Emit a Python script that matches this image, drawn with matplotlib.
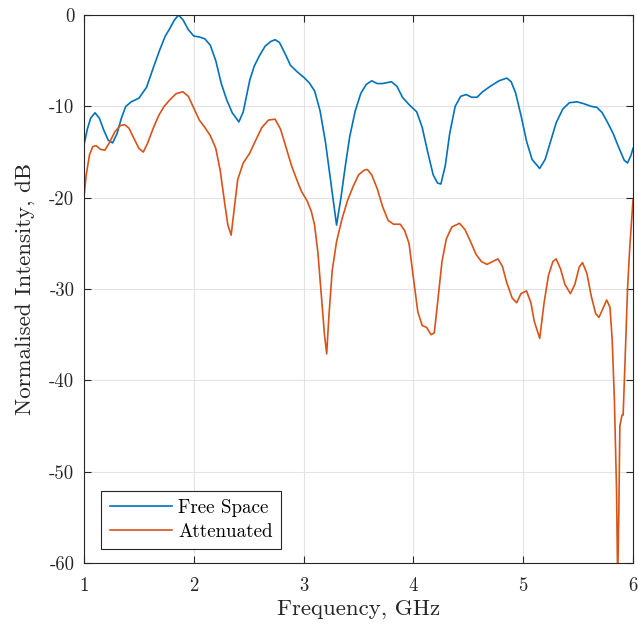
import numpy as np
import matplotlib
matplotlib.use("Agg")
import matplotlib.pyplot as plt

# Free space measurement (frequency in GHz, intensity in dB)
free_f = [1.00, 1.03, 1.06, 1.10, 1.14, 1.18, 1.22, 1.26, 1.30, 1.34, 1.38, 1.43,
          1.50, 1.57, 1.63, 1.69, 1.74, 1.78, 1.82, 1.86, 1.90, 1.95, 2.00, 2.05,
          2.10, 2.15, 2.20, 2.25, 2.30, 2.35, 2.41, 2.45, 2.51, 2.55, 2.60, 2.65,
          2.70, 2.74, 2.78, 2.83, 2.88, 2.94, 3.00, 3.05, 3.10, 3.15, 3.20, 3.25,
          3.30, 3.34, 3.38, 3.42, 3.47, 3.52, 3.57, 3.62, 3.67, 3.72, 3.80, 3.85,
          3.90, 3.96, 4.03, 4.08, 4.13, 4.18, 4.22, 4.25, 4.29, 4.33, 4.38, 4.43,
          4.48, 4.53, 4.58, 4.63, 4.70, 4.78, 4.85, 4.89, 4.93, 4.98, 5.03, 5.08,
          5.15, 5.20, 5.25, 5.30, 5.36, 5.42, 5.49, 5.55, 5.62, 5.67, 5.72, 5.77,
          5.82, 5.87, 5.92, 5.95, 5.98, 6.00]
free_db = [-14.2, -12.5, -11.3, -10.7, -11.3, -12.6, -13.7, -14.0, -13.0, -11.3, -10.0, -9.5,
           -9.1, -7.9, -5.8, -3.8, -2.3, -1.5, -0.6, 0.0, -0.5, -1.6, -2.3, -2.4,
           -2.6, -3.3, -5.0, -7.5, -9.3, -10.7, -11.7, -10.6, -7.1, -5.6, -4.4, -3.4,
           -2.9, -2.7, -3.0, -4.2, -5.5, -6.2, -6.8, -7.4, -8.3, -10.5, -14.0, -18.5,
           -23.0, -20.0, -16.5, -13.3, -10.5, -8.6, -7.6, -7.2, -7.5, -7.5, -7.3, -7.8,
           -9.0, -9.8, -10.6, -12.3, -15.0, -17.5, -18.4, -18.5, -16.5, -13.0, -10.0, -8.9,
           -8.7, -9.0, -9.0, -8.4, -7.8, -7.2, -6.9, -7.3, -8.5, -11.0, -13.8, -15.8,
           -16.8, -15.8, -13.8, -11.8, -10.3, -9.6, -9.5, -9.7, -10.0, -10.1, -10.7, -11.8,
           -13.0, -14.5, -15.9, -16.2, -15.4, -14.6]

# Attenuated measurement
att_f = [1.00, 1.02, 1.05, 1.08, 1.11, 1.15, 1.19, 1.23, 1.28, 1.33, 1.37, 1.41,
         1.45, 1.50, 1.54, 1.58, 1.63, 1.68, 1.73, 1.78, 1.84, 1.90, 1.95, 2.00,
         2.05, 2.10, 2.15, 2.20, 2.24, 2.28, 2.31, 2.34, 2.37, 2.40, 2.45, 2.51,
         2.56, 2.62, 2.68, 2.74, 2.79, 2.84, 2.89, 2.94, 2.98, 3.03, 3.07, 3.10,
         3.13, 3.16, 3.19, 3.21, 3.23, 3.26, 3.30, 3.35, 3.40, 3.45, 3.50, 3.55,
         3.58, 3.62, 3.67, 3.72, 3.77, 3.82, 3.88, 3.92, 3.96, 4.00, 4.04, 4.08,
         4.12, 4.16, 4.19, 4.22, 4.26, 4.30, 4.35, 4.42, 4.47, 4.52, 4.57, 4.62,
         4.67, 4.72, 4.77, 4.81, 4.85, 4.90, 4.94, 4.98, 5.03, 5.07, 5.10, 5.15,
         5.19, 5.23, 5.27, 5.30, 5.34, 5.38, 5.43, 5.47, 5.51, 5.54, 5.58, 5.62,
         5.66, 5.69, 5.72, 5.76, 5.79, 5.81, 5.83, 5.85, 5.86, 5.87, 5.88, 5.90,
         5.91, 5.93, 5.95, 5.97, 6.00]
att_db = [-19.9, -17.5, -15.3, -14.4, -14.3, -14.7, -14.8, -14.0, -12.8, -12.1, -12.0, -12.4,
          -13.4, -14.6, -15.0, -14.0, -12.4, -11.0, -10.0, -9.3, -8.6, -8.4, -8.9, -10.2,
          -11.5, -12.3, -13.2, -14.6, -17.0, -20.5, -23.0, -24.1, -21.0, -18.0, -16.2, -15.1,
          -13.8, -12.3, -11.5, -11.4, -12.5, -14.5, -16.5, -18.1, -19.3, -20.3, -21.5, -23.0,
          -26.0, -30.5, -35.0, -37.1, -33.0, -28.0, -24.8, -22.3, -20.3, -18.8, -17.5, -17.0,
          -16.9, -17.5, -19.0, -21.0, -22.5, -22.9, -22.9, -23.6, -25.0, -28.8, -32.5, -34.0,
          -34.2, -35.0, -34.8, -31.5, -27.0, -24.5, -23.2, -22.8, -23.5, -24.8, -26.2, -27.0,
          -27.3, -27.0, -26.7, -27.5, -29.3, -31.0, -31.5, -30.5, -30.2, -31.5, -33.5, -35.4,
          -31.5, -28.5, -27.0, -26.7, -27.8, -29.5, -30.5, -29.5, -27.6, -27.1, -28.3, -30.8,
          -32.7, -33.1, -32.3, -31.2, -32.0, -35.5, -42.0, -52.0, -62.0, -55.0, -45.0, -43.8,
          -43.8, -37.0, -30.0, -25.5, -20.2]

plt.rcParams['font.family'] = 'cmr10'
plt.rcParams['mathtext.fontset'] = 'cm'
plt.rcParams['axes.unicode_minus'] = False

fig = plt.figure(figsize=(6.38, 6.30), dpi=100)
ax = fig.add_axes([0.1317, 0.1063, 0.8605, 0.8698])

ax.plot(free_f, free_db, color='#0072BD', lw=1.2, label='Free Space')
ax.plot(att_f, att_db, color='#D95319', lw=1.2, label='Attenuated')

ax.set_xlim(1, 6)
ax.set_ylim(-60, 0)
ax.set_xticks(np.arange(1, 7))
ax.set_yticks(np.arange(-60, 1, 10))
ax.grid(True, color='#e3e3e3', lw=0.8)
ax.set_axisbelow(True)
ax.tick_params(direction='in', length=5, width=0.8, color='#262626',
               labelsize=13.5, top=True, right=True, labelcolor='#262626')
ax.tick_params(axis='x', pad=10)
ax.tick_params(axis='y', pad=7)
for s in ax.spines.values():
    s.set_color('#262626')
    s.set_linewidth(0.8)

ax.set_xlabel('Frequency, GHz', fontsize=16.5, color='#262626', labelpad=3)
ax.set_ylabel('Normalised Intensity, dB', fontsize=16.5, color='#262626', labelpad=10)

leg = ax.legend(loc='lower left', fontsize=13.7, frameon=True, fancybox=False,
                edgecolor='#262626', framealpha=1, handlelength=3.3,
                borderaxespad=0.0, bbox_to_anchor=(0.031, 0.025),
                borderpad=0.45, labelspacing=0.3, handletextpad=0.3)
leg.get_frame().set_linewidth(0.8)

fig.savefig('out.png', dpi=100)
